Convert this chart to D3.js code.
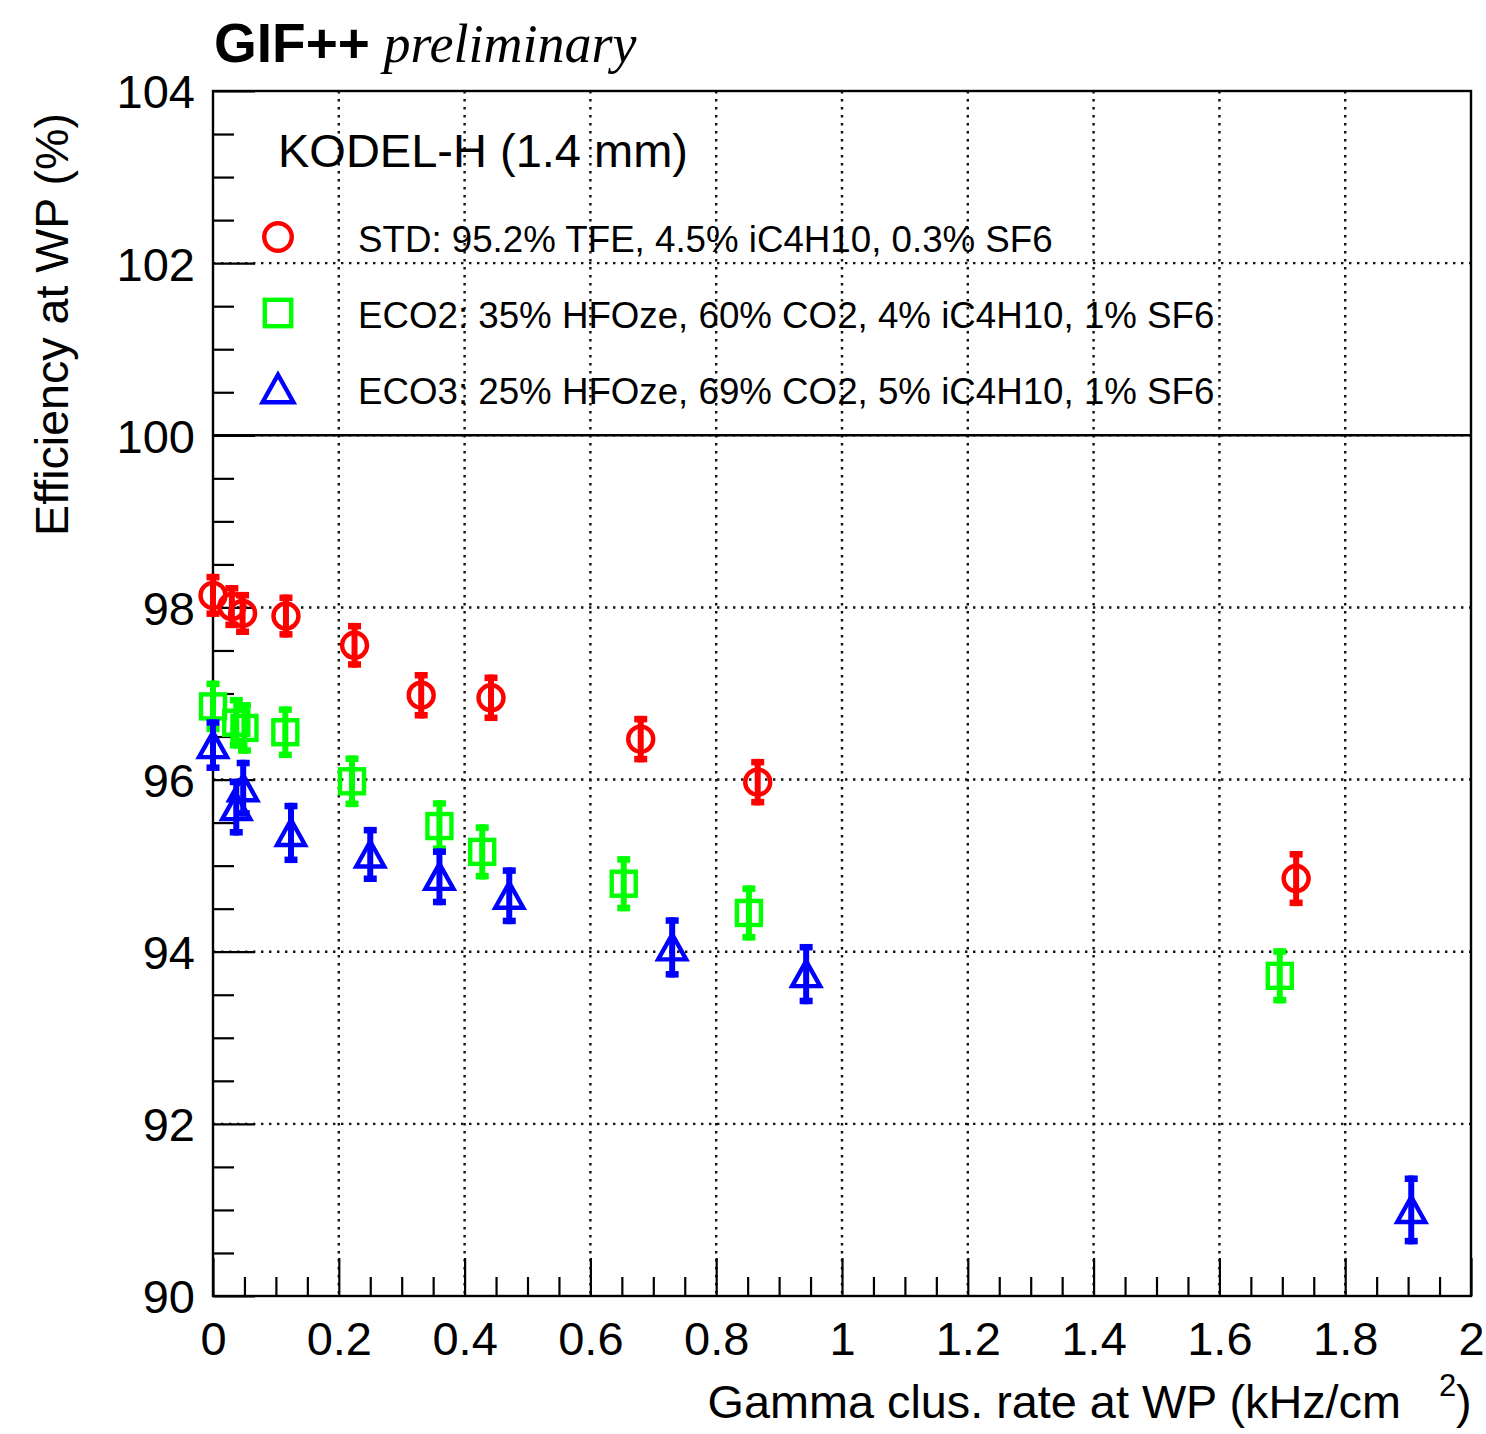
<!DOCTYPE html>
<html>
<head>
<meta charset="utf-8">
<script src="https://cdn.jsdelivr.net/npm/d3@7/dist/d3.min.js"></script>
<style>
  html, body { margin: 0; padding: 0; background: #fff; }
  svg { display: block; }
</style>
</head>
<body>
<svg id="chart" width="1486" height="1434"></svg>
<script>
// ---------------- data ----------------
const stdX   = [0.000, 0.030, 0.047, 0.116, 0.225, 0.331, 0.442, 0.680, 0.866, 1.722];
const stdY   = [98.14, 98.01, 97.93, 97.90, 97.56, 96.98, 96.95, 96.47, 95.97, 94.85];
const stdErr = [0.25, 0.25, 0.25, 0.25, 0.26, 0.27, 0.27, 0.27, 0.27, 0.32];

const eco2X   = [0.000, 0.037, 0.050, 0.115, 0.221, 0.360, 0.428, 0.653, 0.852, 1.696];
const eco2Y   = [96.85, 96.66, 96.60, 96.55, 95.98, 95.46, 95.16, 94.79, 94.45, 93.72];
const eco2Err = [0.30, 0.30, 0.30, 0.30, 0.30, 0.30, 0.32, 0.32, 0.32, 0.32];

const eco3X   = [0.000, 0.037, 0.048, 0.124, 0.250, 0.360, 0.471, 0.730, 0.943, 1.905];
const eco3Y   = [96.40, 95.68, 95.90, 95.38, 95.13, 94.87, 94.65, 94.05, 93.74, 91.00];
const eco3Err = [0.30, 0.33, 0.33, 0.35, 0.32, 0.33, 0.33, 0.35, 0.35, 0.40];

const seriesNames  = ["STD: 95.2% TFE, 4.5% iC4H10, 0.3% SF6",
                      "ECO2: 35% HFOze, 60% CO2, 4% iC4H10, 1% SF6",
                      "ECO3: 25% HFOze, 69% CO2, 5% iC4H10, 1% SF6"];
const seriesColors = ["#ff0000", "#00ff00", "#0000ff"];
const seriesShapes = ["circle", "square", "triangle"];

const xMajorTicks = [0, 0.2, 0.4, 0.6, 0.8, 1, 1.2, 1.4, 1.6, 1.8, 2];
const yMajorTicks = [90, 92, 94, 96, 98, 100, 102, 104];

const legendHeader = "KODEL-H (1.4 mm)";
const xTitle = "Gamma clus. rate at WP (kHz/cm";
const yTitle = "Efficiency at WP (%)";

// ---------------- layout ----------------
const svg = d3.select("#chart");
const L = 213, R = 1471, T = 91, B = 1296;
const x = d3.scaleLinear().domain([0, 2]).range([L, R]);
const y = d3.scaleLinear().domain([90, 104]).range([B, T]);
const SANS = "'Liberation Sans', Arial, Helvetica, sans-serif";

// grid
const grid = svg.append("g").attr("stroke", "#111").attr("stroke-width", 2.4)
  .attr("stroke-dasharray", "2.4,5.6");
grid.selectAll("line.gx").data(xMajorTicks.slice(1, -1)).join("line")
  .attr("x1", d => x(d)).attr("x2", d => x(d)).attr("y1", T).attr("y2", B);
grid.selectAll("line.gy").data(yMajorTicks.slice(1, -1)).join("line")
  .attr("x1", L).attr("x2", R).attr("y1", d => y(d)).attr("y2", d => y(d));

// minor ticks
const xMinor = d3.range(0, 2.0001, 0.05).filter(v => Math.abs(v * 5 - Math.round(v * 5)) > 1e-6);
const yMinor = d3.range(90, 104.0001, 0.5).filter(v => Math.abs(v / 2 - Math.round(v / 2)) > 1e-6);

const gxMinor = svg.append("g").attr("transform", `translate(0,${B})`)
  .call(d3.axisBottom(x).tickValues(xMinor).tickSizeInner(-19).tickSizeOuter(0).tickFormat(""));
const gyMinor = svg.append("g").attr("transform", `translate(${L},0)`)
  .call(d3.axisLeft(y).tickValues(yMinor).tickSizeInner(-21).tickSizeOuter(0).tickFormat(""));

const gx = svg.append("g").attr("transform", `translate(0,${B})`)
  .call(d3.axisBottom(x).tickValues(xMajorTicks).tickSizeInner(-38).tickSizeOuter(0)
    .tickFormat(d => d3.format("")(+d.toFixed(1))));
const gy = svg.append("g").attr("transform", `translate(${L},0)`)
  .call(d3.axisLeft(y).tickValues(yMajorTicks).tickSizeInner(-42).tickSizeOuter(0).tickPadding(18));

[gxMinor, gyMinor, gx, gy].forEach(g => {
  g.select(".domain").remove();
  g.selectAll(".tick line").attr("stroke", "#000").attr("stroke-width", 2.2);
});
gx.selectAll(".tick text").attr("y", 59).attr("dy", 0)
  .attr("font-family", SANS).attr("font-size", 47).attr("fill", "#000");
gy.selectAll(".tick text").attr("dy", "0.36em")
  .attr("font-family", SANS).attr("font-size", 47).attr("fill", "#000");

// frame
svg.append("rect").attr("x", L).attr("y", T).attr("width", R - L).attr("height", B - T)
  .attr("fill", "none").attr("stroke", "#000").attr("stroke-width", 2.4);

// legend box bottom border (legend spans top of frame down to y=100)
svg.append("line").attr("x1", L).attr("x2", R).attr("y1", y(100)).attr("y2", y(100))
  .attr("stroke", "#000").attr("stroke-width", 2.4);

// ---------------- markers ----------------
function drawMarker(g, shape, color, cx, cy, s) {
  if (shape === "circle") {
    g.append("circle").attr("cx", cx).attr("cy", cy).attr("r", 12.5 * s)
      .attr("fill", "none").attr("stroke", color).attr("stroke-width", 4.4);
  } else if (shape === "square") {
    const h = 12 * s;
    g.append("rect").attr("x", cx - h).attr("y", cy - h).attr("width", 2 * h).attr("height", 2 * h)
      .attr("fill", "none").attr("stroke", color).attr("stroke-width", 4.4);
  } else {
    const w = 14 * s, up = 13 * s, dn = 12 * s;
    g.append("path").attr("d", `M${cx},${cy - up}L${cx + w},${cy + dn}L${cx - w},${cy + dn}Z`)
      .attr("fill", "none").attr("stroke", color).attr("stroke-width", 4.4).attr("stroke-linejoin", "miter");
  }
}

const allSeries = [
  { xs: stdX, ys: stdY, es: stdErr },
  { xs: eco2X, ys: eco2Y, es: eco2Err },
  { xs: eco3X, ys: eco3Y, es: eco3Err }
];

allSeries.forEach((s, i) => {
  const color = seriesColors[i];
  const g = svg.append("g");
  const pts = s.xs.map((xv, k) => ({ x: xv, y: s.ys[k], e: s.es[k] }));
  pts.forEach(p => {
    const cx = x(p.x), y0 = y(p.y + p.e), y1 = y(p.y - p.e);
    g.append("line").attr("x1", cx).attr("x2", cx).attr("y1", y0).attr("y2", y1)
      .attr("stroke", color).attr("stroke-width", 6);
    g.append("rect").attr("x", cx - 6.5).attr("y", y0).attr("width", 13).attr("height", 6.5).attr("fill", color);
    g.append("rect").attr("x", cx - 6.5).attr("y", y1 - 6.5).attr("width", 13).attr("height", 6.5).attr("fill", color);
    drawMarker(g, seriesShapes[i], color, cx, y(p.y), 1);
  });
});

// ---------------- legend ----------------
svg.append("text").attr("x", 278).attr("y", 167).text(legendHeader)
  .attr("font-family", SANS).attr("font-size", 47).attr("fill", "#000");
const legendRowsY = [237, 313, 389];
seriesNames.forEach((name, i) => {
  const g = svg.append("g");
  drawMarker(g, seriesShapes[i], seriesColors[i], 278, legendRowsY[i], 1.1);
  g.append("text").attr("x", 358).attr("y", legendRowsY[i] + 15).text(name)
    .attr("font-family", SANS).attr("font-size", 36.7).attr("fill", "#000");
});

// ---------------- titles ----------------
const title = svg.append("text").attr("x", 214).attr("y", 62).attr("fill", "#000");
title.append("tspan").text("GIF++").attr("font-family", SANS).attr("font-weight", "bold").attr("font-size", 55);
title.append("tspan").text(" preliminary").attr("font-family", "'Liberation Serif', 'Times New Roman', serif")
  .attr("font-style", "italic").attr("font-size", 54);

svg.append("text").attr("x", 1401).attr("y", 1418).attr("text-anchor", "end").text(xTitle)
  .attr("font-family", SANS).attr("font-size", 46.8).attr("fill", "#000");
svg.append("text").attr("x", 1439).attr("y", 1396).text("2")
  .attr("font-family", SANS).attr("font-size", 31).attr("fill", "#000");
svg.append("text").attr("x", 1456).attr("y", 1418).text(")")
  .attr("font-family", SANS).attr("font-size", 46.8).attr("fill", "#000");

svg.append("text").attr("transform", "translate(68,113) rotate(-90)").attr("text-anchor", "end")
  .text(yTitle).attr("font-family", SANS).attr("font-size", 46.6).attr("fill", "#000");
</script>
</body>
</html>
